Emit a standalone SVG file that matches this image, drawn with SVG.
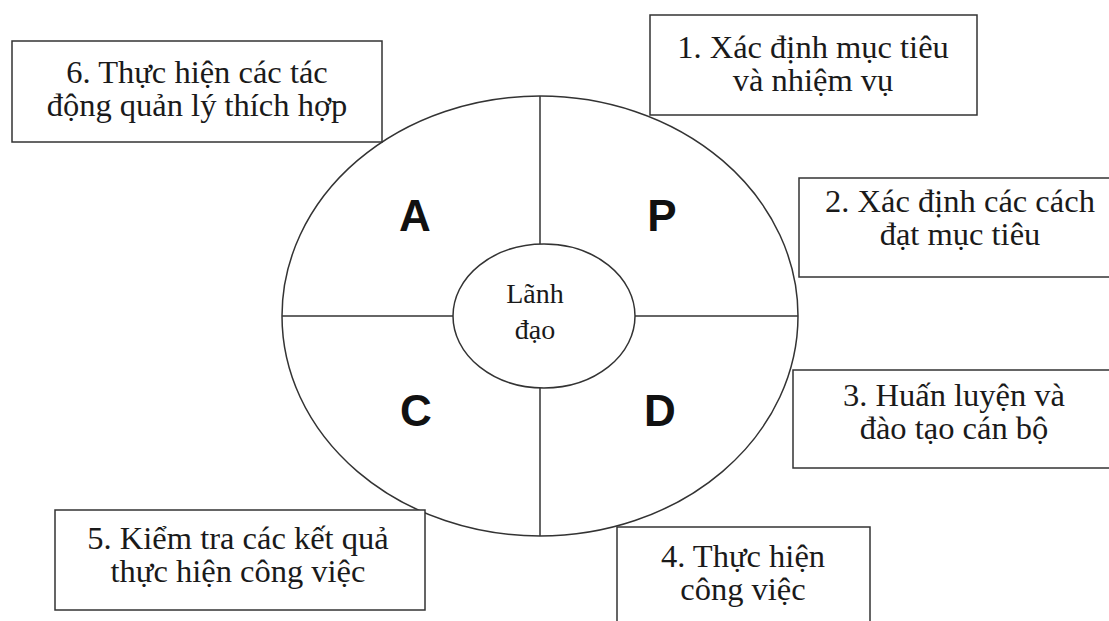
<svg xmlns="http://www.w3.org/2000/svg" width="1109" height="621" viewBox="0 0 1109 621">
<style>
.box{fill:#fff;stroke:#333;stroke-width:1.5}
.ln{fill:none;stroke:#333;stroke-width:1.5}
.t{font-family:"Liberation Serif","Times New Roman",serif;font-size:32.5px;fill:#1a1a1a;text-anchor:middle}
.s{font-family:"Liberation Serif","Times New Roman",serif;font-size:28px;fill:#1a1a1a;text-anchor:middle}
.L{font-family:"Liberation Sans",Arial,sans-serif;font-size:44px;font-weight:bold;fill:#111;text-anchor:middle}
</style>
<rect width="1109" height="621" fill="#fff"/>
<g id="cycle">
<ellipse class="ln" cx="540" cy="316" rx="258" ry="220"/>
</g>
<g id="connectors">
<line class="ln" x1="540" y1="96" x2="540" y2="244"/>
<line class="ln" x1="540" y1="388" x2="540" y2="536"/>
<line class="ln" x1="282" y1="316" x2="453" y2="316"/>
<line class="ln" x1="635" y1="316" x2="798" y2="316"/>
</g>
<g id="quadrants">
<text class="L" x="415" y="231">A</text>
<text class="L" x="662" y="231">P</text>
<text class="L" x="416" y="426">C</text>
<text class="L" x="660" y="426">D</text>
</g>
<g id="center">
<ellipse class="ln" cx="544" cy="316" rx="91" ry="72" fill="#fff"/>
<text class="s" x="535" y="303">Lãnh</text>
<text class="s" x="535" y="339">đạo</text>
</g>
<g id="n1">
<rect class="box" x="650" y="15" width="327" height="100"/>
<text class="t" x="813" y="58">1. Xác định mục tiêu</text>
<text class="t" x="813" y="91">và nhiệm vụ</text>
</g>
<g id="n2">
<rect class="box" x="799" y="178" width="320" height="99"/>
<text class="t" x="960" y="212">2. Xác định các cách</text>
<text class="t" x="960" y="245">đạt mục tiêu</text>
</g>
<g id="n3">
<rect class="box" x="793" y="370" width="326" height="98"/>
<text class="t" x="954" y="406">3. Huấn luyện và</text>
<text class="t" x="954" y="439">đào tạo cán bộ</text>
</g>
<g id="n4">
<rect class="box" x="617" y="527" width="253" height="110"/>
<text class="t" x="743" y="567">4. Thực hiện</text>
<text class="t" x="743" y="600">công việc</text>
</g>
<g id="n5">
<rect class="box" x="55" y="510" width="370" height="100"/>
<text class="t" x="238" y="549">5. Kiểm tra các kết quả</text>
<text class="t" x="238" y="582">thực hiện công việc</text>
</g>
<g id="n6">
<rect class="box" x="12" y="41" width="370" height="101"/>
<text class="t" x="197" y="83">6. Thực hiện các tác</text>
<text class="t" x="197" y="116">động quản lý thích hợp</text>
</g>
</svg>
